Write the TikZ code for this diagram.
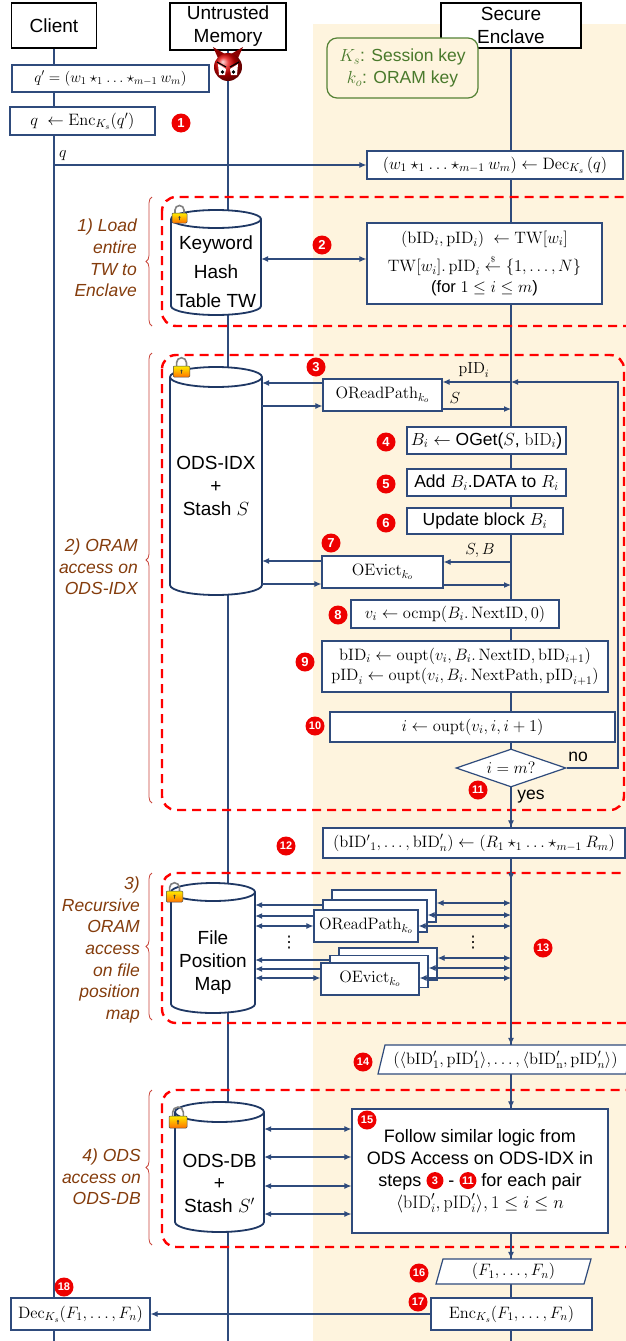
\RequirePackage{fix-cm}
\documentclass[tikz,border=0pt]{standalone}
\usepackage{amsmath}
\usepackage[no-math]{fontspec}
\setmainfont{Liberation Sans}
\newfontfamily\symfont{DejaVu Sans}
\usetikzlibrary{arrows.meta}
\usetikzlibrary{calc}
\usetikzlibrary{shapes.geometric}
\usetikzlibrary{decorations.pathreplacing}

\definecolor{flowblue}{HTML}{2F4B7C}
\definecolor{dbblue}{HTML}{1F3864}
\definecolor{enclavebg}{HTML}{FEF4DE}
\definecolor{keygreen}{HTML}{548235}
\definecolor{keytext}{HTML}{4A7A2C}
\definecolor{phasebrown}{HTML}{843C0C}
\definecolor{phasered}{HTML}{FF0000}
\definecolor{bracered}{HTML}{C9453B}
\definecolor{stepred}{HTML}{EE0000}

% database cylinder: name, cx, cy, width, height, ellipse radius
\newcommand{\dbcylinder}[6]{%
	\draw[dbblue, line width=1.8pt, fill=white]
		({#2-#4/2},{#3-#5/2+#6}) -- ({#2-#4/2},{#3+#5/2-#6})
		arc[start angle=180, end angle=360, x radius=#4/2*1pt, y radius=#6*1pt]
		-- ({#2+#4/2},{#3-#5/2+#6})
		arc[start angle=0, end angle=180, x radius=#4/2*1pt, y radius=#6*1pt];
	\draw[dbblue, line width=1.8pt] ({#2-#4/2},{#3-#5/2+#6})
		arc[start angle=180, end angle=360, x radius=#4/2*1pt, y radius=#6*1pt];
	\node[inner sep=0pt, minimum width=#4, minimum height=#5] (#1) at (#2,#3) {};}

% slanted data box: name, cx, cy, width, height, slant, text
\newcommand{\iobox}[7]{%
	\draw[flowblue, line width=1.2pt, fill=white]
		({#2-#4/2},{#3+#5/2}) -- ({#2-#4/2+#6},{#3-#5/2}) -- ({#2+#4/2},{#3-#5/2})
		-- ({#2+#4/2-#6},{#3+#5/2}) -- cycle;
	\node[iotext, minimum width=#4, minimum height=#5] (#1) at (#2,#3) {#7};}

% small padlock: position of the body top, scale
\newcommand{\padlock}[2]{%
	\begin{scope}[shift={#1}, scale=#2]
		\draw[black!50, line width=1.6pt] (-4.5,1) -- (-4.5,-3) arc[start angle=180, end angle=0, radius=4.5pt] -- (4.5,1);
		\shade[top color=yellow!85!orange, bottom color=orange!90!red, draw=black!70, line width=0.5pt, rounded corners=1pt] (-7.5,0) rectangle (7.5,10);
		\fill[black!75] (0,4.3) circle (1.1pt) (-0.45,4.3) rectangle (0.45,7);
	\end{scope}}

\newcommand{\stepbadge}[1]{\tikz[baseline=-0.6ex]\node[badgeii, minimum size=17pt]{#1};}

\begin{document}
\begin{tikzpicture}[x=1pt, y=-1pt,
	hdr/.style={draw=black, line width=1.6pt, fill=white, align=center, inner sep=0pt, font=\fontsize{19}{23}\selectfont},
	stepbox/.style={draw=flowblue, line width=1.2pt, fill=white, align=center, inner sep=1pt, font=\fontsize{16.5}{20}\selectfont},
	textbox/.style={stepbox, font=\fontsize{17.5}{21}\selectfont},
	dbtext/.style={align=center, inner sep=0pt, font=\fontsize{19}{23}\selectfont},
	iotext/.style={inner sep=0pt, font=\fontsize{16.5}{20}\selectfont},
	phase/.style={draw=phasered, line width=2.4pt, dash pattern=on 9pt off 6pt, rounded corners=14pt},
	phaselabel/.style={anchor=east, align=right, inner sep=0pt, text=phasebrown, font=\itshape\fontsize{17.5}{21.7}\selectfont},
	phasebrace/.style={draw=bracered, line width=0.8pt, decorate, decoration={brace, amplitude=6pt}},
	badge/.style={circle, fill=stepred, text=white, inner sep=0pt, minimum size=19pt, font=\bfseries\fontsize{13}{13}\selectfont},
	badgeii/.style={badge, font=\bfseries\fontsize{11}{11}\selectfont},
	life/.style={draw=flowblue, line width=1.3pt},
	arr/.style={draw=flowblue, line width=1.1pt, -{Latex[length=7pt,width=6pt]}},
	dbl/.style={draw=flowblue, line width=1.1pt, {Latex[length=7pt,width=6pt]}-{Latex[length=7pt,width=6pt]}},
	lbl/.style={inner sep=0pt, font=\fontsize{16}{19}\selectfont},
	word/.style={inner sep=0pt, font=\fontsize{17.5}{21}\selectfont}]

	\useasboundingbox (0,0) rectangle (626,1341);

	%Enclave area
	\fill[enclavebg] (313,24) rectangle (626,1341);

	%Lifelines
	\coordinate (cl) at (54,0);
	\coordinate (mem) at (228,0);
	\coordinate (enc) at (511,0);
	\coordinate (loop) at (618,0);
	\draw[life] (cl |- 0,40) -- (cl |- 0,1341);
	\draw[life] (mem |- 0,40) -- (mem |- 0,1341);
	\draw[life] (enc |- 0,40) -- (enc |- 0,1341);

	%Participants
	\node[hdr, minimum width=85, minimum height=45] (client) at (54,25.5) {Client};
	\node[hdr, minimum width=116, minimum height=47] (untrusted) at (228,26.5) {Untrusted\\Memory};
	\node[hdr, minimum width=140, minimum height=45] (enclave) at (511,25.5) {Secure\\Enclave};
	\node[draw=keygreen, line width=1.2pt, rounded corners=10pt, fill=enclavebg, minimum width=151, minimum height=60, align=center, text=keytext, font=\fontsize{17.5}{22}\selectfont] (keys) at (402.5,68) {$K_s$: Session key\\$k_o$: ORAM key};

	%Adversary
	\fill[red!55!black] (218,58) -- (213,47) -- (225,54) -- cycle;
	\fill[red!55!black] (238,58) -- (243,47) -- (231,54) -- cycle;
	\shade[ball color=red!90!black] (228,67) circle (14pt);
	\fill[white] (218,64) -- (226,69) -- (225,75) -- (219,75) -- cycle;
	\fill[white] (238,64) -- (230,69) -- (231,75) -- (237,75) -- cycle;
	\fill[black] (222.5,72) circle (1.8pt) (233.5,72) circle (1.8pt);
	\draw[black, line width=1.2pt] (217,62) -- (226,67) (239,62) -- (230,67);

	%Query
	\node[stepbox, font=\fontsize{15}{18}\selectfont, minimum width=197, minimum height=27] (qplain) at (110.5,78.5) {$q' = (w_1 \star_1 \ldots \star_{m-1} w_m)$};
	\node[stepbox, minimum width=145, minimum height=28] (qenc) at (82.5,121) {$q \;\leftarrow \mathrm{Enc}_{K_s}(q')$};
	\node[badge] (s1) at (181,123) {1};
	\node[stepbox, minimum width=256, minimum height=28] (qdec) at (495,165) {$(w_1 \star_1 \ldots \star_{m-1} w_m) \leftarrow \mathrm{Dec}_{K_s}\,(q)$};
	\draw[arr] (cl |- qdec.west) -- (qdec.west);
	\node[lbl] (qlbl) at (63,156) {$q$};

	%1) load TW
	\draw[phase] (162,197) rectangle (640,326);
	\draw[phasebrace] (152,326) -- (152,197);
	\node[phaselabel] (ph1) at (137,258) {1) Load\\entire\\TW to\\Enclave};
	\dbcylinder{tw}{216}{262.5}{90}{105}{9}
	\node[dbtext, font=\fontsize{19}{29}\selectfont] (twtext) at (216,272) {Keyword\\Hash\\Table TW};
	\padlock{(179.5,213)}{1}
	\node[stepbox, minimum width=235, minimum height=81, font=\fontsize{16.5}{21}\selectfont] (twlookup) at (484.5,263.5) {$(\mathrm{bID}_i, \mathrm{pID}_i) \;\leftarrow \mathrm{TW}[w_i]$\\[6pt]$\mathrm{TW}[w_i].\,\mathrm{pID}_i \mathrel{\overset{\scriptscriptstyle\$}{\leftarrow}} \{1, \ldots, N\}$\\(for $1 \le i \le m$)};
	\draw[dbl] (tw.east |- 0,259) -- (twlookup.west |- 0,259);
	\node[badge] (s2) at (322,245) {2};

	%2) ORAM access on ODS-IDX
	\draw[phase] (162,355) rectangle (624,810);
	\draw[phasebrace, decoration={brace, amplitude=6pt, aspect=0.54}] (152,803) -- (152,353);
	\node[phaselabel] (ph2) at (138,567) {2) ORAM\\access on\\ODS-IDX};
	\dbcylinder{idx}{216}{481}{92}{228}{10}
	\node[dbtext] (idxtext) at (216,486) {ODS-IDX\\+\\Stash $S$};
	\padlock{(181.5,366)}{1.1}

	\node[stepbox, minimum width=119, minimum height=32] (oread) at (382.5,395) {$\mathrm{OReadPath}_{k_o}$};
	\node[badge] (s3) at (316,367) {3};
	\draw[arr] (oread.west |- 0,383) -- (idx.east |- 0,383);
	\draw[arr] (idx.east |- 0,406) -- (oread.west |- 0,406);
	\draw[arr] (enc |- 0,382) -- (oread.east |- 0,382);
	\draw[arr] (oread.east |- 0,409) -- (enc |- 0,409);
	\node[lbl] (pidlbl) at (474,370) {$\mathrm{pID}_i$};
	\node[lbl] (slbl) at (455,398) {$S$};

	\node[stepbox, font=\fontsize{17.5}{21}\selectfont, minimum width=159, minimum height=27] (oget) at (486.5,440.5) {$B_i \leftarrow{}$OGet($S$, $\mathrm{bID}_i$)};
	\node[badge] (s4) at (386,442) {4};
	\node[textbox, minimum width=159, minimum height=27] (adddata) at (486.5,482.5) {Add $B_i$.DATA to $R_i$};
	\node[badge] (s5) at (386,484) {5};
	\node[textbox, minimum width=156, minimum height=26] (update) at (485,521) {Update block $B_i$};
	\node[badge] (s6) at (386,523) {6};

	\node[stepbox, minimum width=121, minimum height=32] (oevict) at (382.5,572) {$\mathrm{OEvict}_{k_o}$};
	\node[badge] (s7) at (331,543) {7};
	\draw[arr] (oevict.west |- 0,561) -- (idx.east |- 0,561);
	\draw[arr] (idx.east |- 0,584) -- (oevict.west |- 0,584);
	\draw[arr] (enc |- 0,562) -- (oevict.east |- 0,562);
	\draw[arr] (oevict.east |- 0,585) -- (enc |- 0,585);
	\node[lbl] (sblbl) at (480,551) {$S, B$};

	\node[stepbox, minimum width=208, minimum height=28] (vcmp) at (455,614) {$v_i \leftarrow \mathrm{ocmp}(B_i.\,\mathrm{NextID}, 0)$};
	\node[badge] (s8) at (338,615) {8};
	\node[stepbox, minimum width=286, minimum height=51] (nextptr) at (465,666.5) {$\mathrm{bID}_i \leftarrow \mathrm{oupt}(v_i, B_i.\,\mathrm{NextID}, \mathrm{bID}_{i+1})$\\$\mathrm{pID}_i \leftarrow \mathrm{oupt}(v_i, B_i.\,\mathrm{NextPath}, \mathrm{pID}_{i+1})$};
	\node[badge] (s9) at (305,662) {9};
	\node[stepbox, minimum width=285, minimum height=30] (incr) at (472.5,727) {$i \leftarrow \mathrm{oupt}(v_i, i, i+1)$};
	\node[badgeii] (s10) at (315,726) {10};
	\node[diamond, draw=flowblue, line width=1.2pt, fill=white, aspect=2.9, minimum width=110, minimum height=38, inner sep=0pt, font=\fontsize{16.5}{20}\selectfont] (cond) at (511,768) {$i = m?$};
	\node[word] (nolbl) at (578,757) {no};
	\node[badgeii] (s11) at (478,790) {11};
	\node[word] (yeslbl) at (531,797) {yes};
	\draw[arr] (cond.east) -| (loop |- 0,382) -- (enc |- 0,382);

	\node[stepbox, minimum width=302, minimum height=30] (merge) at (474,843) {$(\mathrm{bID'}_1, \ldots, \mathrm{bID}'_n) \leftarrow (R_1 \star_1 \ldots \star_{m-1} R_m)$};
	\node[badgeii] (s12) at (286,846) {12};
	\draw[arr] (cond.south) -- (enc |- merge.north);

	%3) recursive ORAM on the position map
	\draw[phase] (162,873) rectangle (640,1023);
	\draw[phasebrace] (152,1020) -- (152,873);
	\node[phaselabel] (ph3) at (140,950) {3)\\Recursive\\ORAM\\access\\on file\\position\\map};
	\dbcylinder{fpm}{213}{948}{84}{130}{9}
	\node[dbtext] (fpmtext) at (213,963) {File\\Position\\Map};
	\padlock{(174.5,891)}{1.1}
	\draw[arr] (enc |- merge.south) -- (enc |- 0,880);

	\node[stepbox, minimum width=104, minimum height=32] (readB) at (384,906) {};
	\node[stepbox, minimum width=104, minimum height=32] (readM) at (375,916) {};
	\node[stepbox, minimum width=104, minimum height=32] (readF) at (366,926) {$\mathrm{OReadPath}_{k_o}$};
	\draw[arr] (readM.west |- 0,905) -- (fpm.east |- 0,905);
	\draw[arr] (readF.west |- 0,916) -- (fpm.east |- 0,916);
	\draw[dbl] (fpm.east |- 0,926) -- (readF.west |- 0,926);
	\draw[dbl] (readB.east |- 0,903) -- (enc |- 0,903);
	\draw[dbl] (readM.east |- 0,915) -- (enc |- 0,915);
	\draw[dbl] (readF.east |- 0,926) -- (enc |- 0,926);

	\node[stepbox, minimum width=98, minimum height=32] (evictB) at (388,964) {};
	\node[stepbox, minimum width=98, minimum height=32] (evictM) at (379,971.5) {};
	\node[stepbox, minimum width=98, minimum height=32] (evictF) at (370,979) {$\mathrm{OEvict}_{k_o}$};
	\draw[arr] (evictM.west |- 0,960) -- (fpm.east |- 0,960);
	\draw[arr] (evictF.west |- 0,969) -- (fpm.east |- 0,969);
	\draw[dbl] (fpm.east |- 0,978) -- (evictF.west |- 0,978);
	\draw[dbl] (evictB.east |- 0,958) -- (enc |- 0,958);
	\draw[dbl] (evictM.east |- 0,968) -- (enc |- 0,968);
	\draw[dbl] (evictF.east |- 0,978) -- (enc |- 0,978);

	\node[inner sep=0pt, font=\symfont\fontsize{16}{16}\selectfont] (dotsL) at (289,943) {⋮};
	\node[inner sep=0pt, font=\symfont\fontsize{16}{16}\selectfont] (dotsR) at (473,943) {⋮};
	\node[badgeii] (s13) at (543,948) {13};

	\iobox{pairs}{505.5}{1059.5}{255}{29}{7}{$(\langle \mathrm{bID}'_1, \mathrm{pID}'_1\rangle, \ldots, \langle \mathrm{bID}'_\mathrm{n}, \mathrm{pID}'_n\rangle)$}
	\node[badgeii] (s14) at (363,1062) {14};
	\draw[arr] (enc |- 0,1023) -- (enc |- pairs.north);

	%4) ODS access on ODS-DB
	\draw[phase] (162,1090) rectangle (640,1247);
	\draw[phasebrace] (152,1245) -- (152,1090);
	\node[phaselabel] (ph4) at (141,1177) {4) ODS\\access on\\ODS-DB};
	\dbcylinder{db}{219.5}{1167}{89}{130}{10}
	\node[dbtext, font=\fontsize{19}{22.5}\selectfont] (dbtext) at (219.5,1183) {ODS-DB\\+\\Stash $S'$};
	\padlock{(178,1116)}{1.2}

	\node[stepbox, minimum width=256, minimum height=124, font=\fontsize{18}{22}\selectfont] (follow) at (480,1171) {Follow similar logic from\\ODS Access on ODS-IDX in\\steps \stepbadge{3} - \stepbadge{11} for each pair\\$\langle \mathrm{bID}'_i, \mathrm{pID}'_i\rangle, 1 \le i \le n$};
	\node[badgeii] (s15) at (367,1120) {15};
	\draw[dbl] (db.east |- 0,1129) -- (follow.west |- 0,1129);
	\draw[dbl] (db.east |- 0,1157) -- (follow.west |- 0,1157);
	\draw[dbl] (db.east |- 0,1186) -- (follow.west |- 0,1186);
	\draw[dbl] (db.east |- 0,1214) -- (follow.west |- 0,1214);
	\draw[arr] (enc |- pairs.south) -- (enc |- follow.north);

	%Result back to the client
	\iobox{files}{513.5}{1271.5}{155}{25}{7}{$(F_1, \ldots, F_n)$}
	\draw[arr] (enc |- follow.south) -- (enc |- files.north);
	\node[badgeii] (s16) at (419,1273) {16};
	\node[stepbox, minimum width=161, minimum height=32] (encf) at (511.5,1314) {$\mathrm{Enc}_{K_s}(F_1, \ldots, F_n)$};
	\node[badgeii] (s17) at (418,1302) {17};
	\node[stepbox, minimum width=139, minimum height=32] (decf) at (80.5,1314) {$\mathrm{Dec}_{K_s}(F_1, \ldots, F_n)$};
	\node[badgeii] (s18) at (64,1287) {18};
	\draw[arr] (encf.west) -- (decf.east);
\end{tikzpicture}
\end{document}
